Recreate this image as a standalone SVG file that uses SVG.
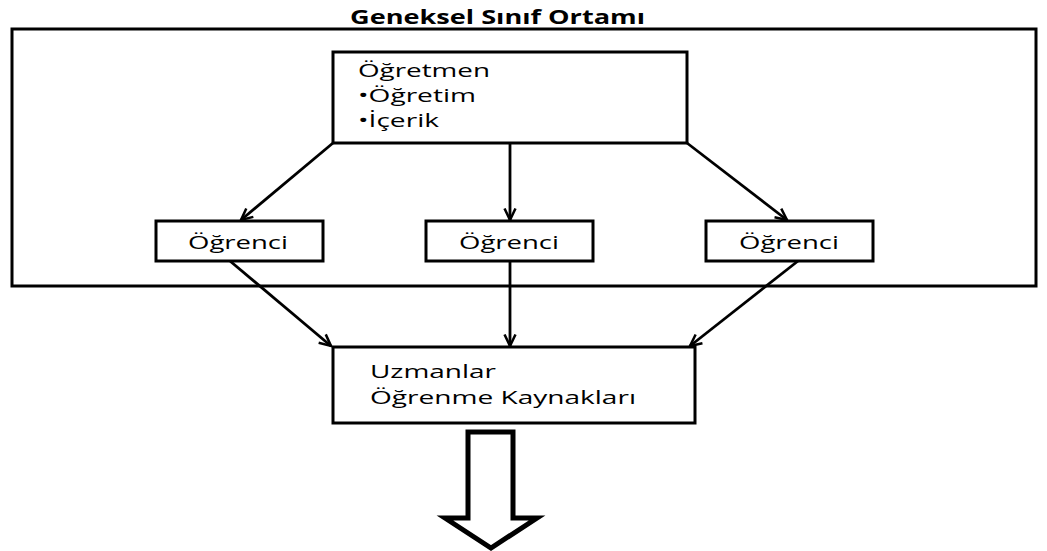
<svg xmlns="http://www.w3.org/2000/svg" width="1047" height="551" viewBox="0 0 1047 551">
<style>
.box{fill:#fff;stroke:#000;stroke-width:3}
.t{font-family:"Open Sans","Liberation Sans",sans-serif;font-size:19px;fill:#000}
.s{font-size:18px}
.title{font-family:"Open Sans","Liberation Sans",sans-serif;font-size:19px;font-weight:bold;fill:#000}
.c{stroke:#000;stroke-width:2.8;fill:none}
</style>
<defs>
<marker id="ah" viewBox="0 0 14 14" refX="12.5" refY="7" markerWidth="14" markerHeight="14" markerUnits="userSpaceOnUse" orient="auto">
<path d="M1,1.5 L12.5,7 L1,12.5" fill="none" stroke="#000" stroke-width="2.5"/>
</marker>
</defs>
<rect width="1047" height="551" fill="#fff"/>
<text class="title" x="350" y="24" textLength="295" lengthAdjust="spacingAndGlyphs">Geneksel Sınıf Ortamı</text>
<g id="outer"><rect class="box" x="12" y="29" width="1024" height="257"/></g>
<g id="connectors">
<line class="c" x1="333" y1="143" x2="241" y2="220" marker-end="url(#ah)"/>
<line class="c" x1="510" y1="143" x2="510" y2="220" marker-end="url(#ah)"/>
<line class="c" x1="687" y1="143" x2="787" y2="220" marker-end="url(#ah)"/>
<line class="c" x1="230" y1="261" x2="331" y2="346" marker-end="url(#ah)"/>
<line class="c" x1="510" y1="261" x2="510" y2="346" marker-end="url(#ah)"/>
<line class="c" x1="798" y1="261" x2="690" y2="346" marker-end="url(#ah)"/>
</g>
<g id="teacher">
<rect class="box" x="333" y="52" width="354" height="91"/>
<text class="t s" x="358" y="77" textLength="132" lengthAdjust="spacingAndGlyphs">Öğretmen</text>
<text class="t s" x="358" y="102" textLength="118" lengthAdjust="spacingAndGlyphs">•Öğretim</text>
<text class="t s" x="358" y="127" textLength="81" lengthAdjust="spacingAndGlyphs">•İçerik</text>
</g>
<g id="student1"><rect class="box" x="156" y="221" width="167" height="40"/><text class="t" x="188" y="249" textLength="100" lengthAdjust="spacingAndGlyphs">Öğrenci</text></g>
<g id="student2"><rect class="box" x="426" y="221" width="167" height="40"/><text class="t" x="459" y="249" textLength="100" lengthAdjust="spacingAndGlyphs">Öğrenci</text></g>
<g id="student3"><rect class="box" x="706" y="221" width="167" height="40"/><text class="t" x="739" y="249" textLength="100" lengthAdjust="spacingAndGlyphs">Öğrenci</text></g>
<g id="resources">
<rect class="box" x="333" y="347" width="362" height="76"/>
<text class="t s" x="370" y="378" textLength="126" lengthAdjust="spacingAndGlyphs">Uzmanlar</text>
<text class="t s" x="370" y="404" textLength="266" lengthAdjust="spacingAndGlyphs">Öğrenme Kaynakları</text>
</g>
<g id="bigarrow">
<path d="M468,432 L513,432 L513,518 L537,518 L491,548 L445,518 L468,518 Z" fill="#fff" stroke="#000" stroke-width="5" stroke-linejoin="miter"/>
</g>
</svg>
